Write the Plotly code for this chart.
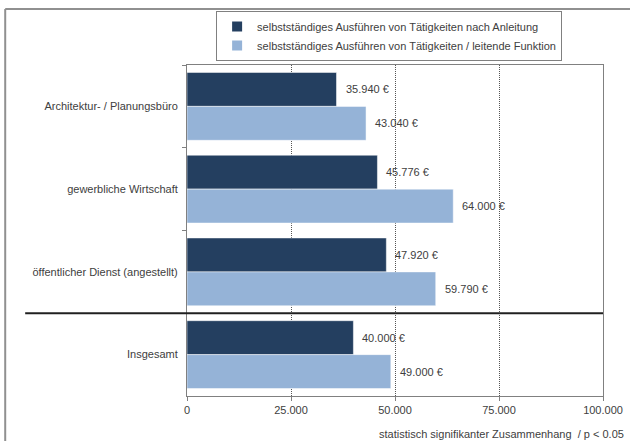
import plotly.graph_objects as go

categories = ["Architektur- / Planungsbüro", "gewerbliche Wirtschaft",
              "öffentlicher Dienst (angestellt)", "Insgesamt"]
series_names = ["selbstständiges Ausführen von Tätigkeiten nach Anleitung",
                "selbstständiges Ausführen von Tätigkeiten / leitende Funktion"]
values_anleitung = [35940, 45776, 47920, 40000]
values_leitend = [43040, 64000, 59790, 49000]
tick_vals = [0, 25000, 50000, 75000, 100000]
footnote = "statistisch signifikanter Zusammenhang  / p < 0.05"

dark = "#243F60"
light = "#95B3D7"
font_family = "Liberation Sans, Arial, sans-serif"
text_color = "#404040"

fig = go.Figure()
for name, vals, col in [(series_names[0], values_anleitung, dark),
                        (series_names[1], values_leitend, light)]:
    fig.add_trace(go.Bar(
        y=categories, x=vals, name=name, orientation="h",
        marker=dict(color=col, line=dict(color="white", width=0.5)),
    ))

# value labels
bargap = 0.18
half = (1 - bargap) / 4
annotations = []
for i, cat in enumerate(categories):
    for vals, off in [(values_anleitung, -half), (values_leitend, half)]:
        v = vals[i]
        annotations.append(dict(
            x=v, y=i + off, xref="x", yref="y",
            text=f"{v:,.0f} €".replace(",", "."),
            showarrow=False, xanchor="left", xshift=7,
            font=dict(size=11, color=text_color, family=font_family),
        ))

annotations.append(dict(
    x=1.055, y=-0.09, xref="paper", yref="paper", text=footnote,
    showarrow=False, xanchor="right", yanchor="top",
    font=dict(size=11, color=text_color, family=font_family),
))

frame = dict(color="#909090", width=2)
fig.update_layout(
    width=630, height=441,
    margin=dict(l=187, r=27, t=64, b=45),
    paper_bgcolor="white", plot_bgcolor="white",
    barmode="group", bargap=bargap, bargroupgap=0,
    separators=",.",
    font=dict(family=font_family, size=11, color=text_color),
    showlegend=True,
    legend=dict(
        x=0.07, y=1.16, xanchor="left", yanchor="top",
        bordercolor="#808080", borderwidth=1, bgcolor="white",
        font=dict(size=11, color=text_color, family=font_family),
        itemwidth=30, tracegroupgap=0, itemsizing="constant",
    ),
    annotations=annotations,
    shapes=[
        dict(type="line", xref="paper", yref="y", x0=-0.389, x1=1,
             y0=2.5, y1=2.5, line=dict(color="#202020", width=2)),
        dict(type="line", xref="paper", yref="paper", x0=-0.437, x1=1.2,
             y0=1.169, y1=1.169, line=frame, layer="below"),
        dict(type="line", xref="paper", yref="paper", x0=-0.437, x1=-0.437,
             y0=-0.3, y1=1.169, line=frame, layer="below"),
    ],
)

fig.update_xaxes(
    range=[0, 100000], tickvals=tick_vals, tickformat=",.0f",
    showgrid=True, gridcolor="#555555", griddash="1px,1px", gridwidth=1,
    showline=True, linecolor="#808080", linewidth=1, mirror=True,
    ticks="outside", ticklen=4, tickcolor="#808080",
    tickfont=dict(size=11, color=text_color), zeroline=False,
    fixedrange=True, automargin=False,
)
fig.update_yaxes(
    autorange="reversed", type="category",
    showline=True, linecolor="#808080", linewidth=1, mirror=True,
    ticks="outside", ticklen=4, tickcolor="#808080", tickson="boundaries",
    tickfont=dict(size=11, color=text_color), showgrid=False,
    ticklabelstandoff=6, automargin=False,
)

fig.write_html("out.html", config={"displayModeBar": False},
               post_script="document.body.style.margin='0';document.body.style.overflow='hidden';")
